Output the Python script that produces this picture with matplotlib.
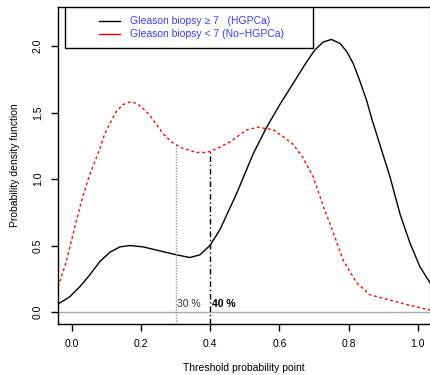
"""Density of predicted probability by biopsy group."""

import matplotlib
matplotlib.use('Agg')
import matplotlib.pyplot as plt
from matplotlib.patches import Rectangle

plt.rcParams['font.family'] = ['Liberation Sans', 'DejaVu Sans']

# ----------------------------------------------------------------------------
# Data

hgpca_x = [-0.04, -0.006, 0.023, 0.052, 0.081, 0.11, 0.139, 0.168, 0.206,
           0.254, 0.303, 0.341, 0.37, 0.399, 0.428, 0.476, 0.524, 0.563,
           0.601, 0.659, 0.678, 0.702, 0.726, 0.75, 0.775, 0.794, 0.813,
           0.832, 0.852, 0.866, 0.89, 0.919, 0.948, 0.977, 1.006, 1.035]
hgpca_y = [0.06, 0.115, 0.19, 0.28, 0.38, 0.45, 0.49, 0.50, 0.49,
           0.46, 0.43, 0.41, 0.43, 0.50, 0.62, 0.89, 1.19, 1.39,
           1.56, 1.80, 1.88, 1.97, 2.03, 2.05, 2.02, 1.96, 1.87,
           1.74, 1.59, 1.46, 1.26, 1.02, 0.74, 0.52, 0.34, 0.22]

nohg_x = [-0.04, -0.017, 0.002, 0.026, 0.05, 0.081, 0.095, 0.11, 0.129,
          0.148, 0.168, 0.187, 0.206, 0.225, 0.245, 0.264, 0.288, 0.307,
          0.322, 0.36, 0.39, 0.42, 0.457, 0.505, 0.538, 0.582, 0.61, 0.64,
          0.668, 0.697, 0.726, 0.755, 0.784, 0.823, 0.861, 0.919, 0.977,
          1.035]
nohg_y = [0.19, 0.37, 0.57, 0.82, 1.02, 1.23, 1.34, 1.42, 1.51,
          1.56, 1.58, 1.57, 1.53, 1.48, 1.41, 1.34, 1.28, 1.25,
          1.23, 1.20, 1.20, 1.23, 1.28, 1.37, 1.39, 1.37, 1.32, 1.26,
          1.16, 1.02, 0.80, 0.60, 0.39, 0.22, 0.13, 0.09, 0.05,
          0.015]

thresholds = [0.3, 0.4]
threshold_tops = [1.26, 1.21]
threshold_labels = ['30 %', '40 %']
legend_labels = ['Gleason biopsy \u2265 7   (HGPCa)',
                 'Gleason biopsy < 7 (No\u2212HGPCa)']
legend_colors = ['black', 'red']

# ----------------------------------------------------------------------------
# Plot

fig = plt.figure(figsize=(4.30, 3.75), dpi=100)
ax = fig.add_axes([0.1349, 0.136, 0.8651, 0.845])
ymin, ymax = -0.09, 2.293
ax.set_xlim(-0.04, 1.035)
ax.set_ylim(ymin, ymax)

ax.axhline(0, color='#aaaaaa', lw=1)
ax.plot(hgpca_x, hgpca_y, color='black', lw=1, solid_joinstyle='round')
ax.plot(nohg_x, nohg_y, color='red', lw=1, dashes=(2, 2))

# threshold markers
ax.plot([thresholds[0]] * 2, [ymin, threshold_tops[0]], color='#999999',
        lw=1, dashes=(1, 1))
ax.plot([thresholds[1]] * 2, [ymin, threshold_tops[1]], color='black',
        lw=1, dashes=(4, 2, 1, 2))
ax.text(thresholds[0] + 0.005, 0.02, threshold_labels[0], fontsize=7.5,
        color='#333333', ha='left', va='bottom')
ax.text(thresholds[1] + 0.004, 0.02, threshold_labels[1], fontsize=7.5,
        fontweight='bold', ha='left', va='bottom')

ax.set_xticks([0.0, 0.2, 0.4, 0.6, 0.8, 1.0])
ax.set_xticklabels(['0.0', '0.2', '0.4', '0.6', '0.8', '1.0'])
ax.set_yticks([0.0, 0.5, 1.0, 1.5, 2.0])
ax.set_yticklabels(['0.0', '0.5', '1.0', '1.5', '2.0'], rotation=90,
                   va='center')
ax.tick_params(labelsize=7.5, length=5, width=1, pad=6)
ax.set_xlabel('Threshold probability point', fontsize=7.5, labelpad=10)
ax.set_ylabel('Probability density function', fontsize=7.5, labelpad=9)
for side in ['left', 'bottom', 'top']:
    ax.spines[side].set_linewidth(1)

# legend, drawn R style: wide box with inset keys
ax.add_patch(Rectangle((0.0188, 0.871), 0.666, 0.2, transform=ax.transAxes,
                       fill=False, edgecolor='black', lw=1, clip_on=True))
for i, (label, col) in enumerate(zip(legend_labels, legend_colors)):
    ypos = 0.956 - 0.041 * i
    ax.plot([0.110, 0.167], [ypos, ypos], color=col, lw=1,
            transform=ax.transAxes)
    ax.text(0.194, ypos, label, color='#3a3aff', fontsize=7.5,
            ha='left', va='center', transform=ax.transAxes)

fig.savefig('out.png', dpi=100)
